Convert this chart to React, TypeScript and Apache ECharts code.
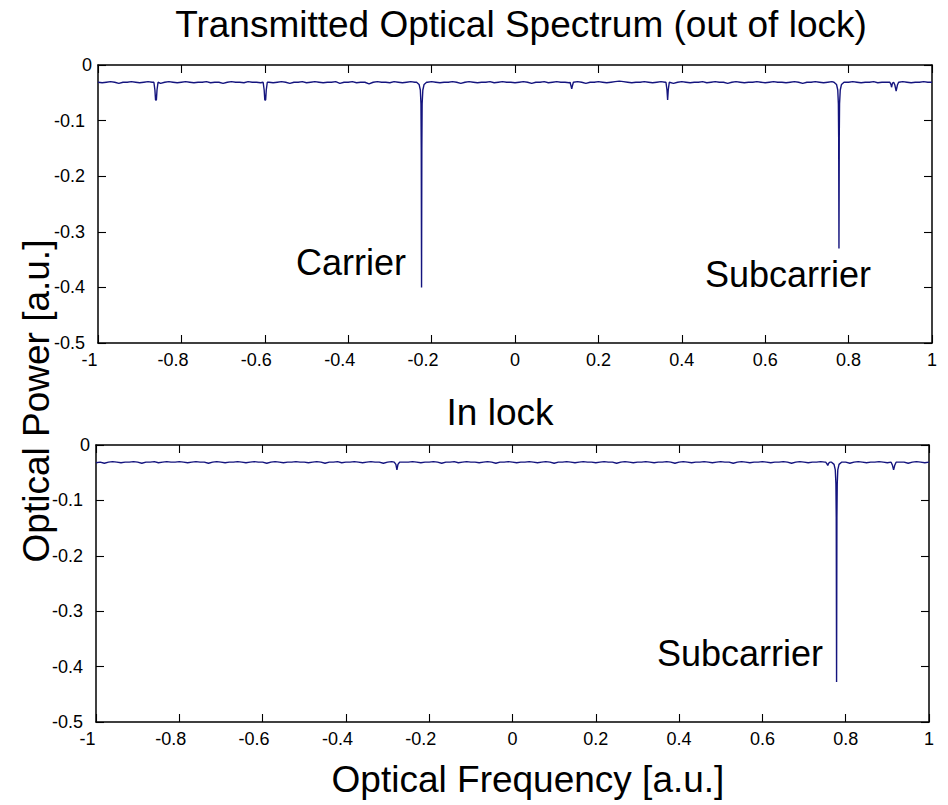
import React, { useEffect, useRef } from "react";
import * as echarts from "echarts";

// Sampling grid of the baseline: -1 .. 1 in steps of 0.01
const baseStart = -1;
const baseStep = 0.01;

// Baseline power, out of lock (201 samples)
const topBase = [
  -0.031,-0.032,-0.031,-0.030,-0.031,-0.033,-0.031,-0.031,-0.030,-0.031,-0.032,-0.031,-0.030,-0.031,-0.031,-0.033,-0.031,-0.030,-0.031,-0.032,
  -0.031,-0.030,-0.031,-0.032,-0.031,-0.031,-0.030,-0.032,-0.031,-0.031,-0.033,-0.031,-0.030,-0.031,-0.031,-0.032,-0.030,-0.031,-0.031,-0.032,
  -0.030,-0.031,-0.032,-0.031,-0.030,-0.031,-0.033,-0.031,-0.031,-0.030,-0.032,-0.031,-0.030,-0.031,-0.032,-0.031,-0.031,-0.030,-0.033,-0.031,
  -0.031,-0.030,-0.032,-0.031,-0.031,-0.034,-0.031,-0.030,-0.031,-0.031,-0.032,-0.030,-0.031,-0.032,-0.031,-0.030,-0.031,-0.031,-0.033,-0.031,
  -0.030,-0.031,-0.032,-0.031,-0.031,-0.030,-0.031,-0.033,-0.031,-0.030,-0.031,-0.032,-0.031,-0.031,-0.030,-0.032,-0.031,-0.030,-0.031,-0.031,
  -0.032,-0.031,-0.030,-0.031,-0.033,-0.031,-0.031,-0.030,-0.032,-0.031,-0.030,-0.031,-0.031,-0.032,-0.031,-0.030,-0.031,-0.033,-0.031,-0.031,
  -0.030,-0.031,-0.032,-0.031,-0.030,-0.029,-0.030,-0.031,-0.032,-0.031,-0.031,-0.030,-0.031,-0.032,-0.031,-0.030,-0.031,-0.031,-0.033,-0.031,
  -0.030,-0.031,-0.032,-0.031,-0.031,-0.030,-0.032,-0.031,-0.030,-0.031,-0.031,-0.033,-0.031,-0.030,-0.031,-0.032,-0.031,-0.031,-0.030,-0.031,
  -0.032,-0.031,-0.030,-0.031,-0.031,-0.032,-0.031,-0.030,-0.031,-0.033,-0.031,-0.031,-0.030,-0.031,-0.032,-0.031,-0.030,-0.031,-0.031,-0.032,
  -0.031,-0.030,-0.031,-0.032,-0.031,-0.031,-0.030,-0.032,-0.031,-0.031,-0.030,-0.033,-0.031,-0.030,-0.031,-0.032,-0.031,-0.031,-0.030,-0.031,-0.031,
];

// Absorption dips, out of lock: [frequency, power]
const topDips: number[][][] = [
  [[-0.866,-0.031],[-0.8635,-0.045],[-0.862,-0.063],[-0.860,-0.063],[-0.8585,-0.045],[-0.856,-0.031]],
  [[-0.604,-0.031],[-0.6015,-0.045],[-0.600,-0.063],[-0.598,-0.063],[-0.5965,-0.045],[-0.594,-0.031]],
  [[-0.236,-0.031],[-0.230,-0.035],[-0.227,-0.045],[-0.2255,-0.07],[-0.2248,-0.15],[-0.2241,-0.40],[-0.2234,-0.15],[-0.2227,-0.07],[-0.221,-0.045],[-0.218,-0.035],[-0.212,-0.031]],
  [[0.132,-0.031],[0.1345,-0.038],[0.136,-0.043],[0.1375,-0.038],[0.140,-0.031]],
  [[0.362,-0.031],[0.3645,-0.045],[0.366,-0.063],[0.3675,-0.045],[0.370,-0.031]],
  [[0.765,-0.031],[0.771,-0.035],[0.774,-0.045],[0.7755,-0.07],[0.7762,-0.13],[0.7769,-0.33],[0.7776,-0.13],[0.7783,-0.07],[0.780,-0.045],[0.783,-0.035],[0.789,-0.031]],
  [[0.899,-0.031],[0.902,-0.036],[0.903,-0.040],[0.905,-0.033],[0.908,-0.031],[0.911,-0.036],[0.914,-0.047],[0.917,-0.036],[0.920,-0.031]],
];

// Baseline power, in lock (201 samples)
const botBase = [
  -0.032,-0.031,-0.033,-0.031,-0.030,-0.031,-0.032,-0.031,-0.031,-0.030,-0.031,-0.033,-0.031,-0.031,-0.030,-0.032,-0.031,-0.030,-0.031,-0.031,
  -0.030,-0.031,-0.032,-0.031,-0.030,-0.031,-0.031,-0.033,-0.031,-0.030,-0.031,-0.032,-0.031,-0.031,-0.030,-0.031,-0.032,-0.031,-0.030,-0.031,
  -0.031,-0.033,-0.031,-0.030,-0.031,-0.032,-0.031,-0.031,-0.030,-0.031,-0.031,-0.032,-0.031,-0.030,-0.031,-0.033,-0.031,-0.031,-0.030,-0.032,
  -0.031,-0.031,-0.030,-0.031,-0.032,-0.031,-0.030,-0.031,-0.031,-0.033,-0.031,-0.030,-0.031,-0.032,-0.031,-0.031,-0.030,-0.031,-0.032,-0.031,
  -0.031,-0.030,-0.031,-0.033,-0.031,-0.031,-0.030,-0.032,-0.031,-0.030,-0.031,-0.031,-0.032,-0.031,-0.030,-0.031,-0.033,-0.031,-0.031,-0.030,
  -0.031,-0.032,-0.031,-0.031,-0.030,-0.031,-0.032,-0.031,-0.030,-0.031,-0.033,-0.031,-0.031,-0.030,-0.031,-0.032,-0.031,-0.030,-0.031,-0.031,
  -0.032,-0.031,-0.030,-0.031,-0.031,-0.033,-0.031,-0.030,-0.031,-0.032,-0.031,-0.031,-0.030,-0.031,-0.032,-0.031,-0.031,-0.030,-0.031,-0.033,
  -0.031,-0.030,-0.031,-0.032,-0.031,-0.031,-0.030,-0.031,-0.032,-0.031,-0.030,-0.031,-0.031,-0.033,-0.031,-0.030,-0.031,-0.032,-0.031,-0.031,
  -0.030,-0.031,-0.032,-0.031,-0.031,-0.030,-0.031,-0.033,-0.031,-0.030,-0.031,-0.032,-0.031,-0.031,-0.030,-0.031,-0.032,-0.031,-0.030,-0.031,
  -0.031,-0.033,-0.031,-0.030,-0.031,-0.032,-0.031,-0.031,-0.030,-0.031,-0.032,-0.031,-0.030,-0.031,-0.031,-0.033,-0.031,-0.030,-0.031,-0.032,-0.031,
];

// Absorption dips, in lock: [frequency, power]
const botDips: number[][][] = [
  [[-0.284,-0.031],[-0.280,-0.035],[-0.2775,-0.045],[-0.275,-0.035],[-0.271,-0.031]],
  [[0.752,-0.031],[0.755,-0.034],[0.757,-0.037],[0.759,-0.033],[0.762,-0.031]],
  [[0.766,-0.031],[0.772,-0.035],[0.775,-0.045],[0.7765,-0.07],[0.7773,-0.13],[0.7781,-0.428],[0.7789,-0.13],[0.7797,-0.07],[0.781,-0.045],[0.784,-0.035],[0.790,-0.031]],
  [[0.909,-0.031],[0.912,-0.036],[0.915,-0.045],[0.918,-0.036],[0.921,-0.031]],
];

const titleTop = "Transmitted Optical Spectrum (out of lock)";
const titleBottom = "In lock";
const xName = "Optical Frequency [a.u.]";
const yName = "Optical Power [a.u.]";
const annotations = ["Carrier", "Subcarrier", "Subcarrier"];

function buildTrace(base: number[], dips: number[][][]): number[][] {
  const pts: number[][] = [];
  base.forEach((v, i) => {
    const x = +(baseStart + i * baseStep).toFixed(4);
    const inside = dips.some((d) => x >= d[0][0] && x <= d[d.length - 1][0]);
    if (!inside) pts.push([x, v]);
  });
  dips.forEach((d) => d.forEach((p) => pts.push(p)));
  pts.sort((a, b) => a[0] - b[0]);
  return pts;
}

const FONT = "'Liberation Sans', Arial, Helvetica, sans-serif";
const LINE = "#14147e";

function fmt(v: number): string {
  return Math.abs(v) < 1e-9 ? "0" : String(+v.toFixed(1));
}

function xAxes(grid: number) {
  const common = {
    type: "value" as const,
    gridIndex: grid,
    min: -1,
    max: 1,
    interval: 0.2,
    splitLine: { show: false },
    axisLine: { show: true, onZero: false, lineStyle: { color: "#000", width: 1.5 } },
    axisTick: { show: true, inside: true, length: 8, lineStyle: { color: "#000", width: 1.1 } },
  };
  return [
    {
      ...common,
      position: "bottom",
      axisLabel: {
        show: true,
        margin: 8,
        fontSize: 18,
        fontFamily: FONT,
        color: "#000",
        formatter: (v: number) => (v < -1e-9 ? `{n|${fmt(v)}}` : fmt(v)),
        rich: { n: { fontSize: 18, fontFamily: FONT, color: "#000", padding: [0, 17, 0, 0] } },
      },
    },
    { ...common, position: "top", axisLabel: { show: false } },
  ];
}

function yAxes(grid: number) {
  const common = {
    type: "value" as const,
    gridIndex: grid,
    min: -0.5,
    max: 0,
    interval: 0.1,
    splitLine: { show: false },
    axisLine: { show: true, onZero: false, lineStyle: { color: "#000", width: 1.5 } },
    axisTick: { show: true, inside: true, length: 8, lineStyle: { color: "#000", width: 1.1 } },
  };
  return [
    {
      ...common,
      position: "left",
      axisLabel: {
        show: true,
        margin: 6,
        fontSize: 18,
        fontFamily: FONT,
        color: "#000",
        formatter: (v: number) => (v < -1e-9 ? `{n|${fmt(v)}}` : fmt(v)),
        rich: { n: { fontSize: 18, fontFamily: FONT, color: "#000", padding: [0, 7, 0, 0] } },
      },
    },
    { ...common, position: "right", axisLabel: { show: false } },
  ];
}

export default function App() {
  const ref = useRef<HTMLDivElement>(null);
  useEffect(() => {
    if (!ref.current) return;
    const chart = echarts.init(ref.current, undefined, { renderer: "svg" });
    const topData = buildTrace(topBase, topDips);
    const botData = buildTrace(botBase, botDips);
    const textStyle = (text: string, size: number) => ({
      text,
      fontSize: size,
      fontFamily: FONT,
      fill: "#000",
      align: "center",
      verticalAlign: "middle",
    });
    chart.setOption({
      animation: false,
      backgroundColor: "#fff",
      grid: [
        { left: 98, top: 65, width: 834, height: 278, containLabel: false },
        { left: 96, top: 445, width: 833, height: 277, containLabel: false },
      ],
      xAxis: [...xAxes(0), ...xAxes(1)],
      yAxis: [...yAxes(0), ...yAxes(1)],
      series: [
        {
          type: "line",
          xAxisIndex: 0,
          yAxisIndex: 0,
          data: topData,
          showSymbol: false,
          symbol: "none",
          lineStyle: { color: LINE, width: 1.4 },
          clip: true,
        },
        {
          type: "line",
          xAxisIndex: 2,
          yAxisIndex: 2,
          data: botData,
          showSymbol: false,
          symbol: "none",
          lineStyle: { color: LINE, width: 1.4 },
          clip: true,
        },
      ],
      graphic: [
        { type: "text", x: 521, y: 24, style: textStyle(titleTop, 37) },
        { type: "text", x: 500, y: 412, style: textStyle(titleBottom, 37) },
        { type: "text", x: 528, y: 779, style: textStyle(xName, 37) },
        { type: "text", x: 36, y: 401, rotation: Math.PI / 2, style: textStyle(yName, 37) },
        { type: "text", x: 351, y: 262, style: textStyle(annotations[0], 36) },
        { type: "text", x: 788, y: 274, style: textStyle(annotations[1], 36) },
        { type: "text", x: 740, y: 653, style: textStyle(annotations[2], 36) },
      ],
    });
    return () => chart.dispose();
  }, []);
  return <div ref={ref} style={{ width: 948, height: 805, position: "absolute", left: 0, top: 0 }} />;
}
